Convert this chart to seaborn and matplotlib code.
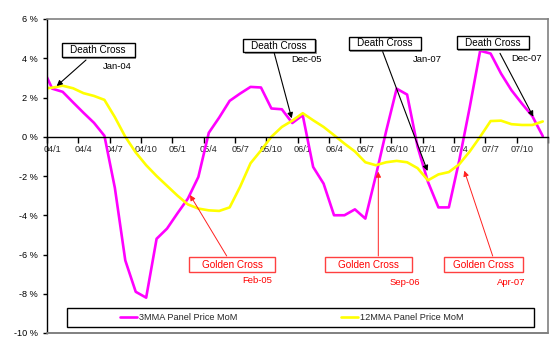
import matplotlib
matplotlib.use("Agg")
import matplotlib.pyplot as plt
import matplotlib.patches as mpatches
import seaborn as sns
import pandas as pd
import numpy as np

# ---------------- data ----------------
months = ["03/12"] + [f"{y:02d}/{m}" for y in range(4, 8) for m in range(1, 13)]
mma3 = [3.6,
        2.45, 2.29, 1.75, 1.22, 0.71, 0.05, -2.6, -6.3, -7.9, -8.2, -5.2, -4.68,
        -3.9, -3.15, -2.05, 0.2, 0.98, 1.83, 2.2, 2.54, 2.51, 1.44, 1.4, 0.7,
        1.1, -1.54, -2.39, -4.0, -4.0, -3.7, -4.17, -2.0, 0.3, 2.45, 2.15, -0.5,
        -2.3, -3.6, -3.6, -1.2, 1.5, 4.38, 4.24, 3.22, 2.37, 1.69, 1.05, 0.03]
mma12 = [2.45,
         2.5, 2.6, 2.47, 2.22, 2.08, 1.88, 1.0, 0.0, -0.8, -1.45, -2.0, -2.5,
         -3.0, -3.45, -3.66, -3.75, -3.78, -3.6, -2.55, -1.35, -0.7, 0.0, 0.5, 0.82,
         1.2, 0.84, 0.5, 0.08, -0.35, -0.75, -1.3, -1.45, -1.3, -1.23, -1.3, -1.6,
         -2.22, -1.92, -1.8, -1.4, -0.75, 0.0, 0.8, 0.82, 0.64, 0.6, 0.6, 0.78]
series_names = ["3MMA Panel Price MoM", "12MMA Panel Price MoM"]
series_colors = ["#FF00FF", "#FFFF00"]
tick_labels = ["04/1", "04/4", "04/7", "04/10", "05/1", "05/4", "05/7", "05/10",
               "06/1", "06/4", "06/7", "06/10", "07/1", "07/4", "07/7", "07/10"]
y_ticks = [-10, -8, -6, -4, -2, 0, 2, 4, 6]

death_labels = ["Jan-04", "Dec-05", "Jan-07", "Dec-07"]
golden_labels = ["Feb-05", "Sep-06", "Apr-07"]

# ---------------- frame ----------------
W, H = 555, 345
sns.set_style("white")
plt.rcParams["font.family"] = ["Liberation Sans", "DejaVu Sans"]

fig = plt.figure(figsize=(W / 100, H / 100), dpi=100)
AX_L, AX_R, AX_T, AX_B = 47, 548, 19, 333
ax = fig.add_axes([AX_L / W, (H - AX_B) / H, (AX_R - AX_L) / W, (AX_B - AX_T) / H])

# x position of each month = category centre (index - 0.5 for the leading Dec-03)
xpos = np.arange(len(months)) - 0.5
df = pd.DataFrame({
    "x": np.concatenate([xpos, xpos]),
    "value": mma3 + mma12,
    "series": [series_names[0]] * len(months) + [series_names[1]] * len(months),
})
sns.lineplot(data=df, x="x", y="value", hue="series", palette=series_colors,
             linewidth=1.9, ax=ax, sort=False, legend=True)

ax.set_xlim(0, 48)
ax.set_ylim(-10, 6)
ax.set_xlabel("")
ax.set_ylabel("")

# pixel -> data helpers for layout of annotations
px_x = (AX_R - AX_L) / 48.0
px_y = (AX_B - AX_T) / 16.0
def dx(xp):
    return (xp - AX_L) / px_x
def dy(yp):
    return 6 - (yp - AX_T) / px_y

# spines
for s in ["top", "right"]:
    ax.spines[s].set_color("#808080")
    ax.spines[s].set_linewidth(1.2)
ax.spines["left"].set_color("black")
ax.spines["left"].set_linewidth(1.0)
ax.spines["bottom"].set_position(("data", 0))
ax.spines["bottom"].set_color("black")
ax.spines["bottom"].set_linewidth(1.0)
ax.axhline(-10, color="#808080", lw=1.4, clip_on=False, zorder=3)

ax.set_yticks(y_ticks)
ax.set_yticklabels([f"{v} %" for v in y_ticks])
ax.tick_params(axis="y", direction="out", length=3, width=1, pad=3.5,
               labelsize=6.6, left=True, colors="black")

ax.set_xticks(np.arange(0, 49, 3))
ax.set_xticklabels([""] * 17)
ax.set_xticks(np.arange(0, 48, 3) + 0.5, minor=True)
ax.set_xticklabels(tick_labels, minor=True)
ax.tick_params(axis="x", which="major", direction="out", length=4, width=1,
               bottom=True, colors="black")
ax.tick_params(axis="x", which="minor", length=0, pad=6.2, labelsize=6.6,
               bottom=True)

# ---------------- annotations ----------------
def box(cx, cy, wpx, hpx, text, color, edge, shadow):
    w = wpx / px_x
    h = hpx / px_y
    if shadow:
        ax.add_patch(mpatches.Rectangle((dx(cx) - w / 2 + 1.5 / px_x, dy(cy) - h / 2 - 1.5 / px_y),
                                        w, h, facecolor="#9a9a9a", edgecolor="none",
                                        clip_on=False, zorder=6))
    ax.add_patch(mpatches.Rectangle((dx(cx) - w / 2, dy(cy) - h / 2), w, h,
                                    facecolor="white", edgecolor=edge, lw=1.0,
                                    clip_on=False, zorder=7))
    ax.text(dx(cx), dy(cy), text, ha="center", va="center", fontsize=7.2,
            color=color, zorder=8, clip_on=False)

def arrow(p0, p1, color, lw):
    ax.annotate("", xy=(dx(p1[0]), dy(p1[1])), xytext=(dx(p0[0]), dy(p0[1])),
                arrowprops=dict(arrowstyle="-|>", color=color, lw=lw,
                                mutation_scale=8, shrinkA=0, shrinkB=0),
                zorder=9, annotation_clip=False)

# Death crosses
death_boxes = [(98, 50, 73, 14.5), (279, 45.7, 72, 13.5), (384.5, 43.3, 72, 13.5), (492.5, 42.5, 72, 13.5)]
death_arrows = [((86, 60), (56.7, 86)), ((274.3, 53.3), (291.7, 118.3)),
                ((382.7, 51.7), (427.5, 171)), ((500, 53.3), (533.3, 116.7))]
death_dates = [(117, 66.7), (307, 60), (427, 60), (527, 58.3)]
for (cx, cy, w, h), (a0, a1), (tx, ty), lab in zip(death_boxes, death_arrows, death_dates, death_labels):
    arrow(a0, a1, "black", 0.8)
    box(cx, cy, w, h, "Death Cross", "black", "black", True)
    ax.text(dx(tx), dy(ty), lab, ha="center", va="center", fontsize=6.8,
            color="black", clip_on=False)

# Golden crosses
golden_boxes = [(232, 264.5, 85.5, 15.6), (368.3, 264.5, 86.7, 15.6), (483.7, 264.5, 79.3, 15.6)]
golden_arrows = [((226.7, 256), (190, 195)), ((378.3, 256), (378.3, 171.7)),
                 ((492.7, 256), (464.3, 170.7))]
golden_dates = [(257, 280.7), (404.5, 282.3), (511.7, 282.3)]
for (cx, cy, w, h), (a0, a1), (tx, ty), lab in zip(golden_boxes, golden_arrows, golden_dates, golden_labels):
    arrow(a0, a1, "#FF2020", 0.7)
    box(cx, cy, w, h, "Golden Cross", "#FF0000", "#FF4040", False)
    ax.text(dx(tx), dy(ty), lab, ha="center", va="center", fontsize=6.8,
            color="#FF0000", clip_on=False)

# ---------------- legend ----------------
handles, labels = ax.get_legend_handles_labels()
ax.legend(handles, labels, ncol=2, frameon=False, loc="center left",
          bbox_to_anchor=(120 / W, (H - 317.5) / H), bbox_transform=fig.transFigure,
          handlelength=1.9, handletextpad=0.15, columnspacing=11.3,
          fontsize=6.6, borderpad=0, borderaxespad=0)
fig.add_artist(mpatches.Rectangle((66.7 / W, (H - 327.3) / H), 467.6 / W, 19 / H,
                                  transform=fig.transFigure, fill=False,
                                  edgecolor="black", lw=1.0))

fig.savefig("out.png", dpi=100, facecolor="white")
